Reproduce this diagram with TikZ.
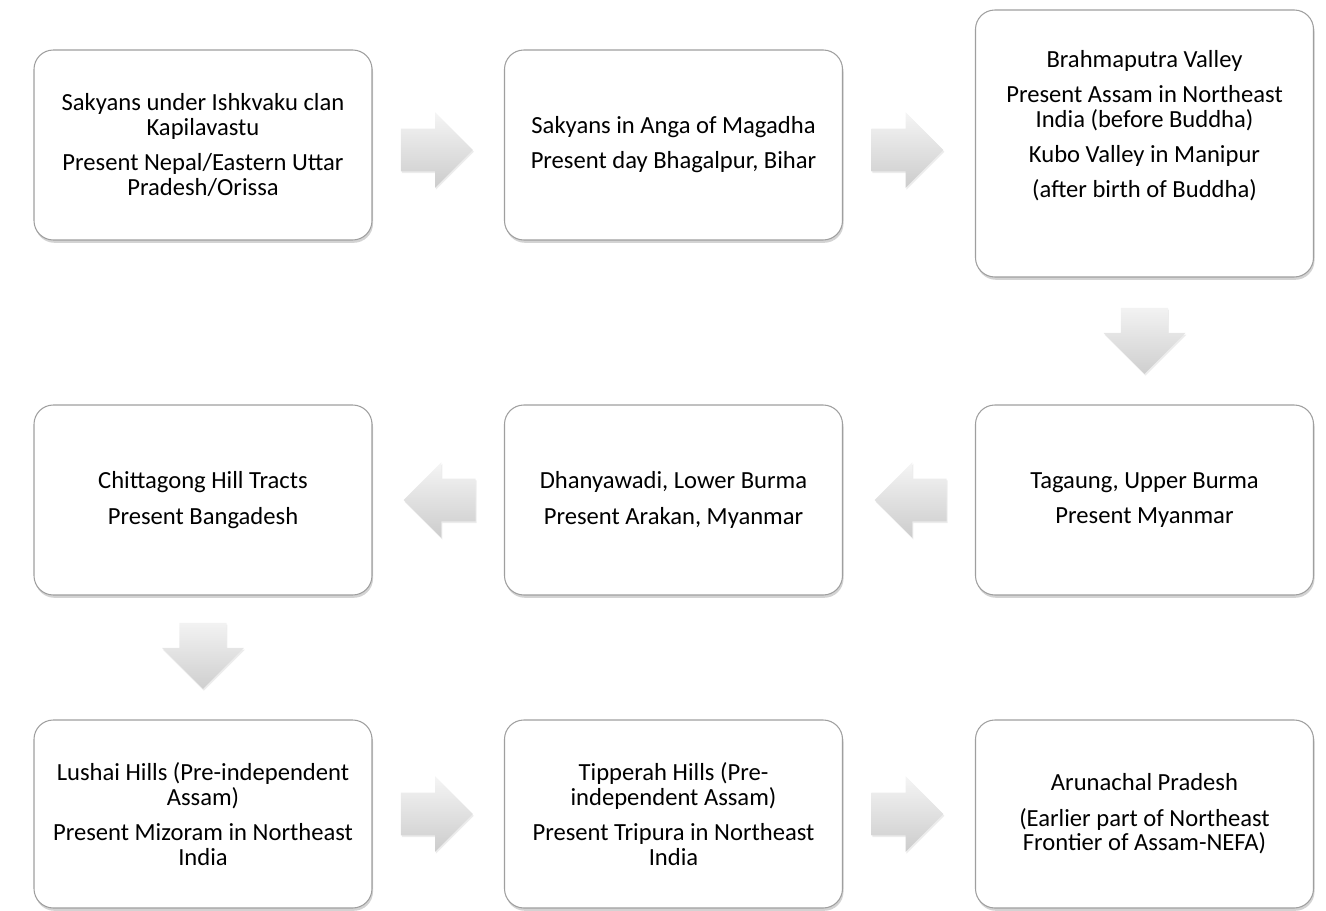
\documentclass[tikz,border=0pt]{standalone}
\usepackage{fontspec}
\setmainfont{Carlito}
\usetikzlibrary{calc,shapes.arrows,shadows}

\begin{document}
\begin{tikzpicture}[
	box/.style={draw=gray!75,line width=0.6pt,rounded corners=11pt,fill=white,
		minimum width=6.76cm,minimum height=3.8cm,align=center,text=black,
		font=\fontsize{14}{14}\selectfont,
		drop shadow={shadow xshift=0.6pt,shadow yshift=-1.6pt,opacity=0.35}},
	flow/.style={single arrow,single arrow head extend=0.33cm,single arrow tip angle=90,
		minimum width=1.5cm,minimum height=1.44cm,inner xsep=0pt,inner ysep=0.42cm,draw=none,
		anchor=tail,top color=gray!8,bottom color=gray!40,
		drop shadow={shadow xshift=0.5pt,shadow yshift=-1pt,opacity=0.15}},
	flowdown/.style={flow,shape border rotate=270,inner xsep=0.44cm,inner ysep=0pt,
		minimum width=1.64cm,minimum height=1.32cm,top color=gray!10,bottom color=gray!38},
]
	\useasboundingbox (0,0) rectangle (26.52,18.2);
	% top row
	\node[box] (kapil) at (4.06,15.3) {Sakyans under Ishkvaku clan\\ Kapilavastu\\[6pt] Present Nepal/Eastern Uttar\\ Pradesh/Orissa};
	\node[box] (anga) at (13.47,15.3) {Sakyans in Anga of Magadha\\[6pt] Present day Bhagalpur, Bihar};
	\node[box,minimum height=5.34cm] (brahma) at (22.89,15.33) {};
	\node[align=center,text=black,font=\fontsize{14}{14}\selectfont] at ([yshift=0.35cm]brahma.center)
		{Brahmaputra Valley\\[6pt] Present Assam in Northeast\\ India (before Buddha)\\[6pt] Kubo Valley in Manipur\\[6pt] (after birth of Buddha)};
	% middle row
	\node[box] (tagaung) at (22.89,8.2) {Tagaung, Upper Burma\\[6pt] Present Myanmar};
	\node[box] (dhanya) at (13.47,8.2) {Dhanyawadi, Lower Burma\\[6pt] Present Arakan, Myanmar};
	\node[box] (chitta) at (4.06,8.2) {Chittagong Hill Tracts\\[6pt] Present Bangadesh};
	% bottom row
	\node[box,minimum height=3.76cm] (lushai) at (4.06,1.92) {Lushai Hills (Pre-independent\\ Assam)\\[6pt] Present Mizoram in Northeast\\ India};
	\node[box,minimum height=3.76cm] (tipperah) at (13.47,1.92) {Tipperah Hills (Pre-\\ independent Assam)\\[6pt] Present Tripura in Northeast\\ India};
	\node[box,minimum height=3.76cm] (arun) at (22.89,1.92) {Arunachal Pradesh\\[6pt] (Earlier part of Northeast\\ Frontier of Assam-NEFA)};
	% block arrows
	\node[flow] (f1) at ([shift={(0.56,-0.1)}]kapil.east) {};
	\node[flow] (f2) at ([shift={(0.56,-0.1)}]anga.east) {};
	\node[flowdown] (f3) at ([yshift=-0.6cm]brahma.south) {};
	\node[flow,shape border rotate=180] (f4) at ([xshift=-0.56cm]tagaung.west) {};
	\node[flow,shape border rotate=180] (f5) at ([xshift=-0.56cm]dhanya.west) {};
	\node[flowdown] (f6) at ([yshift=-0.54cm]chitta.south) {};
	\node[flow] (f7) at ([xshift=0.56cm]lushai.east) {};
	\node[flow] (f8) at ([xshift=0.56cm]tipperah.east) {};
\end{tikzpicture}
\end{document}
